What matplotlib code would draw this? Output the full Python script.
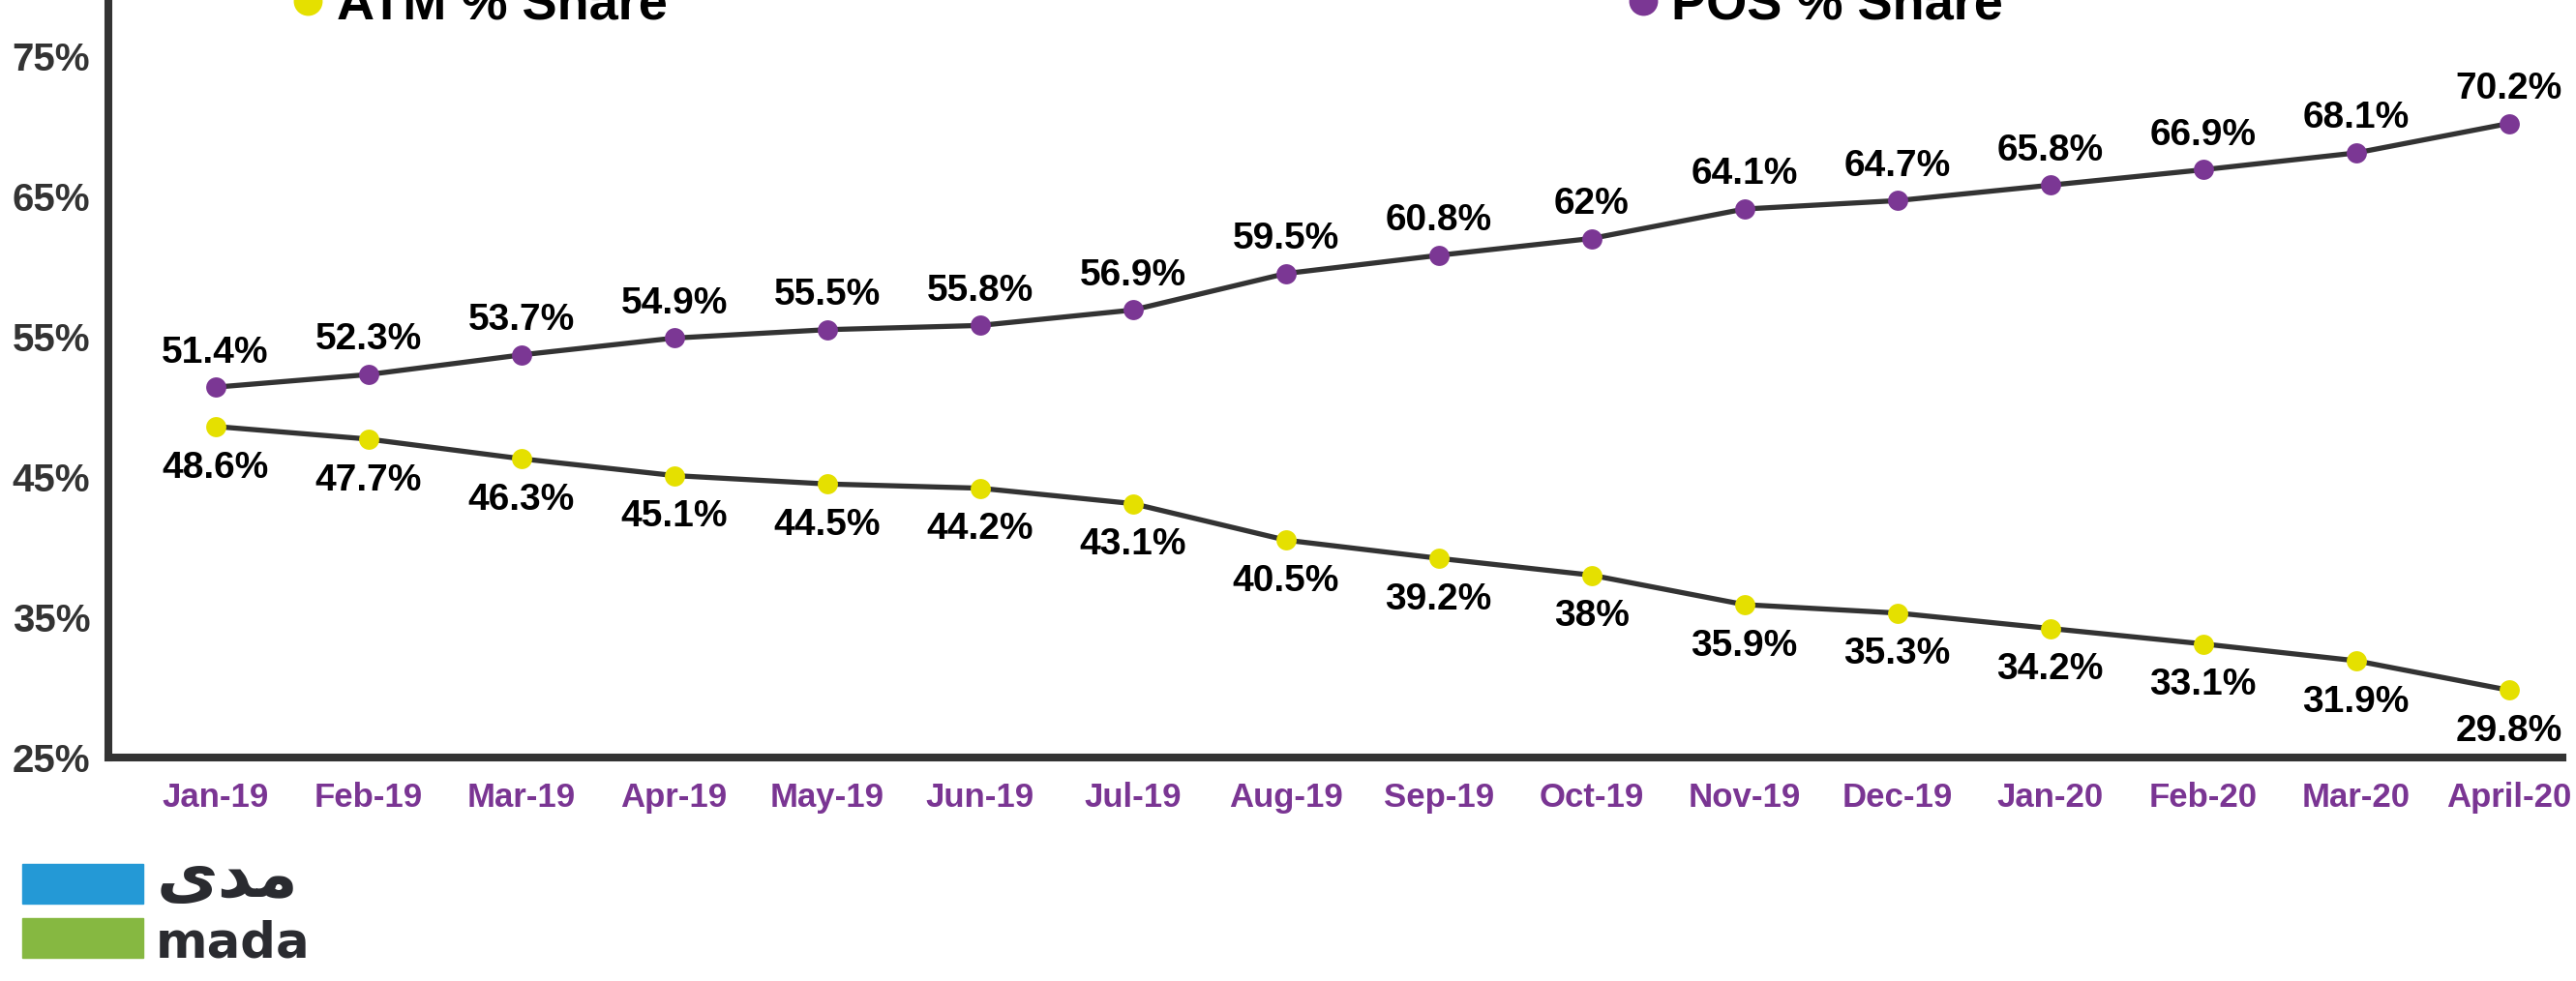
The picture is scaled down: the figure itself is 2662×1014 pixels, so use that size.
import matplotlib
matplotlib.use("Agg")
import matplotlib.pyplot as plt
from matplotlib.patches import Rectangle

# ---------------- data ----------------
months = ["Jan-19", "Feb-19", "Mar-19", "Apr-19", "May-19", "Jun-19", "Jul-19",
          "Aug-19", "Sep-19", "Oct-19", "Nov-19", "Dec-19", "Jan-20", "Feb-20",
          "Mar-20", "April-20"]
pos_share = [51.4, 52.3, 53.7, 54.9, 55.5, 55.8, 56.9, 59.5, 60.8, 62, 64.1,
             64.7, 65.8, 66.9, 68.1, 70.2]
atm_share = [48.6, 47.7, 46.3, 45.1, 44.5, 44.2, 43.1, 40.5, 39.2, 38, 35.9,
             35.3, 34.2, 33.1, 31.9, 29.8]
y_ticks = [25, 35, 45, 55, 65, 75]
series_names = ["ATM % Share", "POS % Share"]

# ---------------- style ----------------
W, H = 2662, 1014
FONT = "Liberation Sans"
PURPLE = "#7A3593"
YELLOW = "#E5E000"
LINE = "#333333"
AXIS = "#333333"

fig = plt.figure(figsize=(W / 100, H / 100), dpi=100)
fig.patch.set_facecolor("white")

ax_left, ax_right, ax_bottom = 112, 2648, 783
ax = fig.add_axes([ax_left / W, 1 - ax_bottom / H, (ax_right - ax_left) / W, ax_bottom / H])

x = list(range(len(months)))
ax.plot(x, pos_share, color=LINE, lw=3.8, zorder=2, solid_capstyle="round")
ax.plot(x, atm_share, color=LINE, lw=3.8, zorder=2, solid_capstyle="round")
ax.plot(x, pos_share, ls="none", marker="o", ms=15, mfc="#7B3794", mec="none", zorder=3)
ax.plot(x, atm_share, ls="none", marker="o", ms=15, mfc=YELLOW, mec="none", zorder=3)

for xi, v in zip(x, pos_share):
    ax.annotate(f"{v:g}%", (xi, v), xytext=(0, 18.5), textcoords="offset points",
                ha="center", va="baseline", fontsize=28, fontweight="bold",
                family=FONT, color="black", zorder=4)
for xi, v in zip(x, atm_share):
    ax.annotate(f"{v:g}%", (xi, v), xytext=(0, -38), textcoords="offset points",
                ha="center", va="baseline", fontsize=28, fontweight="bold",
                family=FONT, color="black", zorder=4)

ax.set_xlim(-0.70, 15.35)
ax.set_ylim(25, 79)
ax.set_xticks(x)
ax.set_xticklabels(months, fontsize=25, fontweight="bold", family=FONT, color=PURPLE)
ax.set_yticks(y_ticks)
ax.set_yticklabels([f"{t}%" for t in y_ticks], fontsize=29, fontweight="bold",
                   family=FONT, color=AXIS)
ax.tick_params(axis="x", length=0, pad=18)
ax.tick_params(axis="y", length=0, pad=13.5)
for s in ["top", "right"]:
    ax.spines[s].set_visible(False)
for s in ["left", "bottom"]:
    ax.spines[s].set_linewidth(5.8)
    ax.spines[s].set_color(AXIS)
    ax.spines[s].set_capstyle("projecting")
ax.patch.set_alpha(0)

# ---------------- legend (top, partly cut off as in the reference) ----------------
leg_y = 1 - 20 / H
for dot_x, txt_x, col, name in [(318, 348, YELLOW, series_names[0]),
                                (1698, 1727, "#7B3794", series_names[1])]:
    fig.lines.append(plt.Line2D([dot_x / W], [1 - 1 / H], transform=fig.transFigure,
                                marker="o", ms=21.5, mfc=col, mec="none", ls="none"))
    fig.text(txt_x / W, leg_y, name, fontsize=39, fontweight="bold", family=FONT,
             color="black", ha="left", va="baseline")

# ---------------- mada logo ----------------
fig.patches.append(Rectangle((23 / W, 1 - 934 / H), 125 / W, 41 / H,
                             transform=fig.transFigure, color="#2499D6"))
fig.patches.append(Rectangle((23 / W, 1 - 990 / H), 125 / W, 41 / H,
                             transform=fig.transFigure, color="#86B841"))
# Arabic "مدى" in presentation forms (visual order left to right)
fig.text(162 / W, 1 - 927 / H, "\uFEEF\uFEAA\uFEE3", fontsize=50, fontweight="bold",
         family=["DejaVu Sans"], color="#2A2B30", ha="left", va="baseline")
fig.text(161 / W, 1 - 990 / H, "mada", fontsize=37, fontweight="bold",
         family=["DejaVu Sans"], color="#2A2B30", ha="left", va="baseline")

fig.savefig("out.png", dpi=100, facecolor="white")
